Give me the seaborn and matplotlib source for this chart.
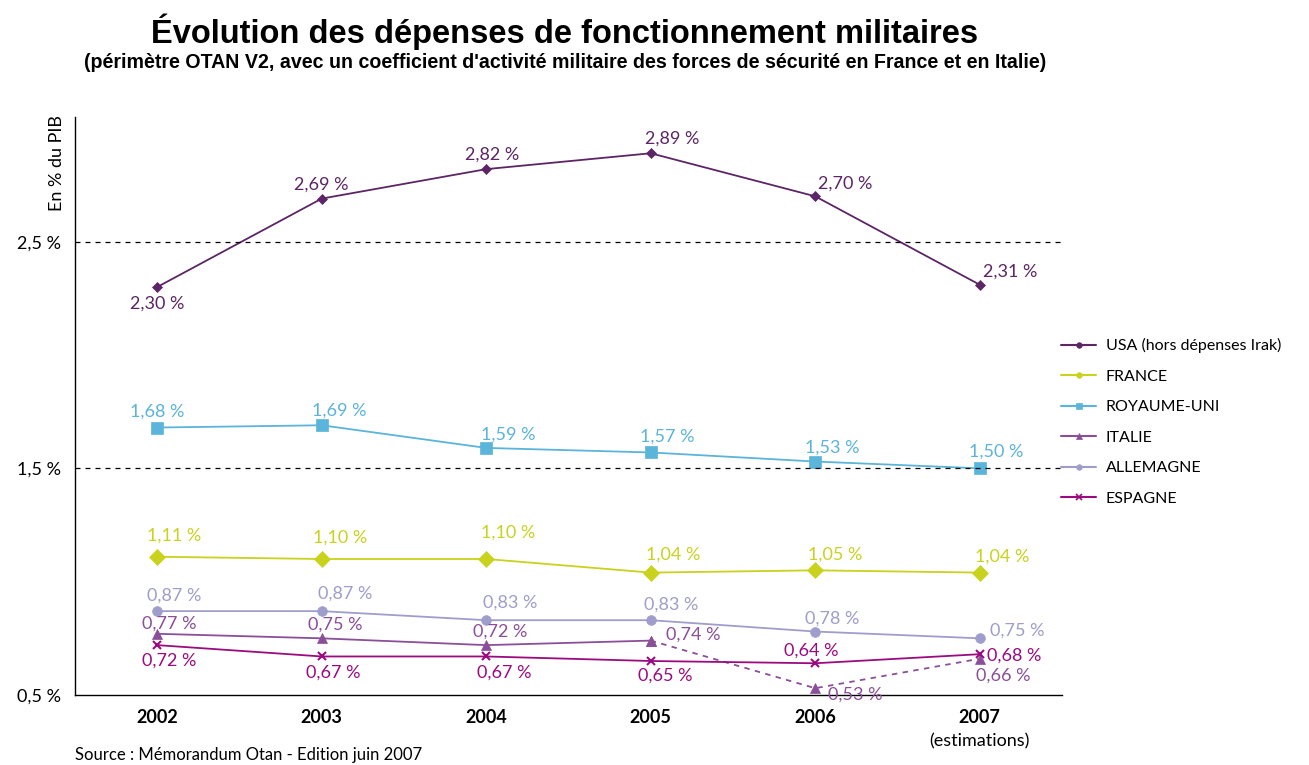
import matplotlib
matplotlib.use("Agg")
import matplotlib.pyplot as plt
from matplotlib.lines import Line2D
import numpy as np
import pandas as pd
import seaborn as sns

# données (en % du PIB)
annees = ["2002", "2003", "2004", "2005", "2006", "2007"]
usa = [2.30, 2.69, 2.82, 2.89, 2.70, 2.31]
france = [1.11, 1.10, 1.10, 1.04, 1.05, 1.04]
royaume_uni = [1.68, 1.69, 1.59, 1.57, 1.53, 1.50]
italie = [0.77, 0.75, 0.72, 0.74, 0.53, 0.66]
allemagne = [0.87, 0.87, 0.83, 0.83, 0.78, 0.75]
espagne = [0.72, 0.67, 0.67, 0.65, 0.64, 0.68]
y_ticks = [0.5, 1.5, 2.5]

sns.set_style("white")
plt.rcParams['font.family'] = ['Lato', 'DejaVu Sans']
plt.rcParams['text.color'] = 'black'
plt.rcParams['xtick.color'] = 'black'
plt.rcParams['ytick.color'] = 'black'

series = [
    ("USA (hors dépenses Irak)", usa, "#5c2565", "D", 5,
     [(0, 17), (0, -14), (6, -15), (21, -15), (30, -13), (30, -13)]),
    ("FRANCE", france, "#c9d21c", "D", 8,
     [(17, -21), (18, -21), (22, -26), (22, -18), (20, -16), (22, -16)]),
    ("ROYAUME-UNI", royaume_uni, "#5bb4d9", "s", 8,
     [(0, -16), (18, -15), (22, -13), (16, -16), (17, -14), (16, -17)]),
    ("ITALIE", italie, "#8a4f98", "^", 7,
     [(12, -10), (13, -14), (14, -14), (42, -6), (40, 6), (24, 17)]),
    ("ALLEMAGNE", allemagne, "#9f9dcc", "o", 7,
     [(17, -16), (23, -18), (24, -18), (20, -16), (17, -13), (37, -8)]),
    ("ESPAGNE", espagne, "#9b0b80", "x", 6,
     [(12, 15), (12, 16), (18, 16), (14, 15), (-4, -13), (34, 1)]),
]

fig = plt.figure(figsize=(13.09, 7.65), dpi=100)
ax = fig.add_axes([75 / 1309, 1 - 695 / 765, (1062 - 75) / 1309, (695 - 117) / 765])

x = np.arange(len(annees))
handles = []
for nom, vals, col, mk, ms, offs in series:
    df = pd.DataFrame({"x": x, "v": vals})
    mew = 1.5 if mk == "x" else 0.5
    if nom == "ITALIE":
        # trait plein jusqu'en 2005, pointillé ensuite
        sns.lineplot(data=df.iloc[:4], x="x", y="v", ax=ax, color=col, lw=1.3,
                     marker=mk, markersize=ms, markeredgecolor=col, mew=mew)
        sns.lineplot(data=df.iloc[3:], x="x", y="v", ax=ax, color=col, lw=1.3,
                     ls=(0, (3, 3)), marker=mk, markersize=ms,
                     markeredgecolor=col, mew=mew)
    else:
        sns.lineplot(data=df, x="x", y="v", ax=ax, color=col, lw=1.3,
                     marker=mk, markersize=ms, markeredgecolor=col, mew=mew)
    for xi, v, (dx, dy) in zip(x, vals, offs):
        ax.annotate(f"{v:.2f} %".replace(".", ","), (xi, v),
                    xytext=(dx, -dy), textcoords="offset pixels",
                    ha="center", va="center", fontsize=13, color=col)
    leg_mk = "o" if mk == "D" else mk
    handles.append(Line2D([], [], color=col, lw=1.5, marker=leg_mk,
                          markersize=4 if leg_mk == "o" else 5,
                          markeredgecolor=col, mew=1.2 if mk == "x" else 0.5,
                          label=nom))

# lignes de référence
for yv in [1.5, 2.5]:
    ax.axhline(yv, color="black", lw=0.9, ls=(0, (4, 4)))

ax.set_xlim(-0.5, 5.5)
ax.set_ylim(0.5, 3.05)
ax.set_yticks(y_ticks)
ax.set_yticklabels(["0,5 %", "1,5 %", "2,5 %"], fontsize=13)
ax.set_xticks(x)
ax.set_xticklabels(annees, fontsize=13, fontweight="bold")
ax.set_xticks(np.arange(-0.5, 6, 1), minor=True)
ax.tick_params(axis="x", which="major", length=0, pad=10)
ax.tick_params(axis="x", which="minor", length=4, direction="out", width=0.8)
ax.tick_params(axis="y", length=6, width=0.8, direction="out", pad=4)
ax.set_xlabel("")
ax.set_ylabel("")
for s in ["top", "right"]:
    ax.spines[s].set_visible(False)
for s in ["left", "bottom"]:
    ax.spines[s].set_linewidth(1.0)
    ax.spines[s].set_color("black")

ax.text(5, -0.081, "(estimations)", transform=ax.get_xaxis_transform(),
        ha="center", va="center", fontsize=13)

fig.text(57 / 1309, 1 - 163 / 765, "En % du PIB", rotation=90,
         ha="center", va="center", fontsize=13)

fig.legend(handles=handles, loc="upper left",
           bbox_to_anchor=(1050 / 1309, 1 - 327 / 765), frameon=False,
           fontsize=11.5, handlelength=2.2, labelspacing=1.02, handletextpad=0.6,
           borderaxespad=0.3)

fig.text(565 / 1309, 1 - 32 / 765, "Évolution des dépenses de fonctionnement militaires",
         ha="center", va="center", fontsize=23.5, fontweight="bold",
         family=["Liberation Sans", "DejaVu Sans"])
fig.text(565 / 1309, 1 - 62 / 765,
         "(périmètre OTAN V2, avec un coefficient d'activité militaire des forces de sécurité en France et en Italie)",
         ha="center", va="center", fontsize=14.1, fontweight="bold",
         family=["Liberation Sans", "DejaVu Sans"])
fig.text(75 / 1309, 1 - 755 / 765, "Source : Mémorandum Otan - Edition juin 2007",
         ha="left", va="center", fontsize=12)

fig.savefig("out.png", dpi=100)
